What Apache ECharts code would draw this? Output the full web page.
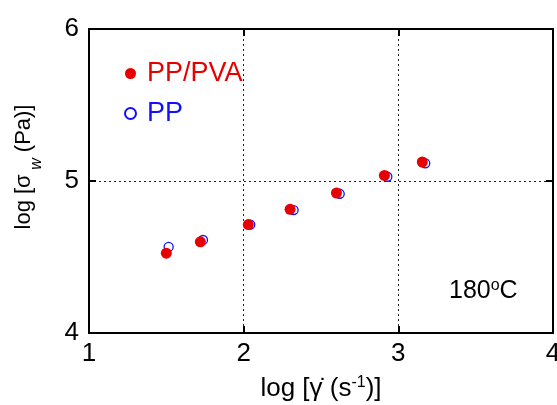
<!DOCTYPE html>
<html>
<head>
<meta charset="utf-8">
<script src="https://cdn.jsdelivr.net/npm/echarts@6/dist/echarts.min.js"></script>
<style>
  html, body { margin: 0; padding: 0; background: #fff; }
  #chart { width: 557px; height: 405px; }
</style>
</head>
<body>
<div id="chart"></div>
<script>
// Wall shear stress vs. shear rate (log-log), 180 °C
const seriesNames = ['PP/PVA', 'PP'];

// log of shear rate (s^-1) and log of wall shear stress (Pa)
const ppPvaX = [1.50, 1.72, 2.03, 2.30, 2.60, 2.91, 3.155];
const ppPvaY = [4.525, 4.60, 4.713, 4.814, 4.921, 5.037, 5.125];

const ppX = [1.515, 1.737, 2.043, 2.323, 2.621, 2.929, 3.174];
const ppY = [4.566, 4.612, 4.713, 4.809, 4.916, 5.028, 5.116];

const xTicks = [1, 2, 3, 4];
const yTicks = [4, 5, 6];

const FONT = "'Liberation Sans', Arial, sans-serif";
const RED = '#e60000';
const BLUE = '#1010ff';

const pairs = (xs, ys) => xs.map((x, i) => [x, ys[i]]);

const chart = echarts.init(document.getElementById('chart'), null, { renderer: 'canvas' });

const tickStyle = { show: true, inside: true, length: 7, lineStyle: { color: '#000', width: 2 } };
const gridLine = { show: true, lineStyle: { color: '#222', width: 1, type: [2, 3] } };

chart.setOption({
  animation: false,
  backgroundColor: '#fff',
  grid: {
    left: 89, right: 4, top: 29, bottom: 72,
    outerBoundsMode: 'none', containLabel: false,
    show: true, borderColor: '#000', borderWidth: 2
  },
  xAxis: [
    {
      type: 'value', min: xTicks[0], max: xTicks[xTicks.length - 1], interval: 1,
      position: 'bottom',
      axisLine: { show: true, lineStyle: { color: '#000', width: 2 } },
      axisTick: tickStyle,
      splitLine: gridLine,
      axisLabel: { color: '#000', fontSize: 26, fontFamily: FONT, margin: 8, hideOverlap: false },
      name: '{t|log [}{g|γ̇}{t| (s}{sup|-1}{t|)]}',
      nameLocation: 'middle', nameGap: 42,
      nameTextStyle: {
        rich: {
          t: { fontSize: 26, fontFamily: FONT, color: '#000' },
          g: { fontSize: 26, fontFamily: FONT, color: '#000' },
          sup: { fontSize: 16, fontFamily: FONT, color: '#000', verticalAlign: 'top', padding: [0, 0, 12, 0] }
        }
      }
    },
    {
      type: 'value', min: xTicks[0], max: xTicks[xTicks.length - 1], interval: 1,
      position: 'top',
      axisLine: { show: true, lineStyle: { color: '#000', width: 2 } },
      axisTick: tickStyle, axisLabel: { show: false }, splitLine: { show: false }
    }
  ],
  yAxis: [
    {
      type: 'value', min: yTicks[0], max: yTicks[yTicks.length - 1], interval: 1,
      position: 'left',
      axisLine: { show: true, lineStyle: { color: '#000', width: 2 } },
      axisTick: tickStyle,
      splitLine: gridLine,
      axisLabel: { color: '#000', fontSize: 26, fontFamily: FONT, margin: 10 },
      name: '{t|log [σ}{sub| w}{t| (Pa)]}',
      nameLocation: 'middle', nameGap: 44, nameRotate: 90,
      nameTextStyle: {
        padding: [0, 0, 0, 28],
        rich: {
          t: { fontSize: 22, fontFamily: FONT, color: '#000', verticalAlign: 'top' },
          sub: { fontSize: 16, fontFamily: FONT, fontStyle: 'italic', color: '#000', verticalAlign: 'bottom', padding: [16, 0, 0, 0] }
        }
      }
    },
    {
      type: 'value', min: yTicks[0], max: yTicks[yTicks.length - 1], interval: 1,
      position: 'right',
      axisLine: { show: true, lineStyle: { color: '#000', width: 2 } },
      axisTick: tickStyle, axisLabel: { show: false }, splitLine: { show: false }
    }
  ],
  legend: {
    orient: 'vertical', left: 119, top: 55, itemGap: 13,
    itemWidth: 11, itemHeight: 11,
    data: [
      { name: 'PP/PVA', icon: 'circle', textStyle: { color: RED } },
      { name: 'PP', icon: 'circle', textStyle: { color: BLUE } }
    ],
    textStyle: { fontSize: 27, fontFamily: FONT, padding: [0, 0, 0, 6] }
  },
  graphic: [
    {
      type: 'text', left: 449, top: 278,
      style: {
        text: '{t|180}{sup|o}{t|C}',
        rich: {
          t: { fontSize: 25, fontFamily: FONT, fill: '#000' },
          sup: { fontSize: 16, fontFamily: FONT, fill: '#000', verticalAlign: 'top', padding: [0, 0, 10, 0] }
        }
      }
    }
  ],
  series: [
    {
      name: 'PP', type: 'scatter', symbol: 'circle', symbolSize: 9,
      itemStyle: { color: '#fff', borderColor: BLUE, borderWidth: 1.3, opacity: 1 },
      data: pairs(ppX, ppY), z: 2
    },
    {
      name: 'PP/PVA', type: 'scatter', symbol: 'circle', symbolSize: 11,
      itemStyle: { color: RED, opacity: 1 },
      data: pairs(ppPvaX, ppPvaY), z: 3
    }
  ]
});
</script>
</body>
</html>
